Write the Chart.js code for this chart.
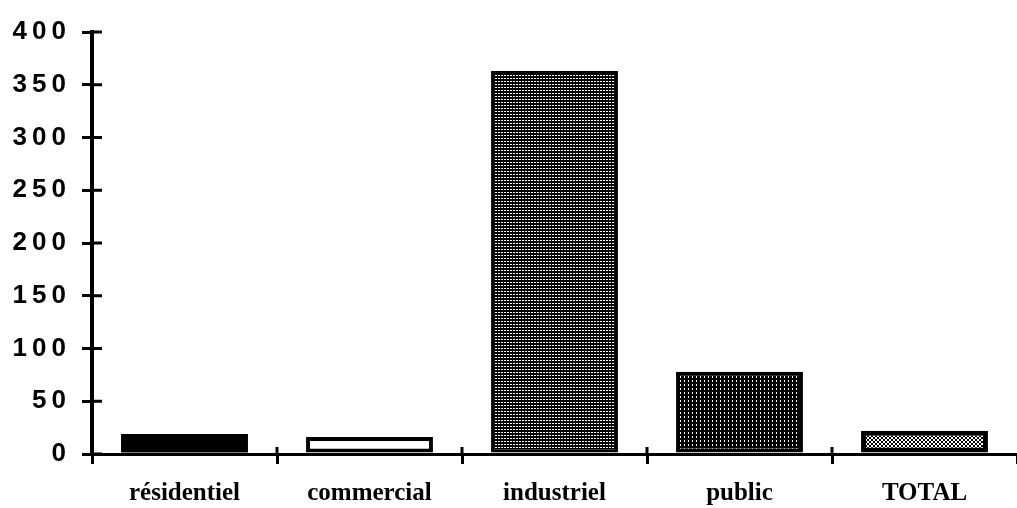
<!DOCTYPE html>
<html>
<head>
<meta charset="utf-8">
<script src="https://cdn.jsdelivr.net/npm/chart.js@4"></script>
<style>
    html, body { margin: 0; padding: 0; background: #fff; }
    #wrap { width: 1017px; height: 508px; position: relative; }
</style>
</head>
<body>
<div id="wrap"><canvas id="chart"></canvas></div>
<script>
const categories = ['résidentiel', 'commercial', 'industriel', 'public', 'TOTAL'];
const values = [19, 16, 363, 78, 22];
const yTicks = [0, 50, 100, 150, 200, 250, 300, 350, 400];

// small tiled fills, like the old screen patterns
function makePattern(size, bg, fg, dots) {
    const c = document.createElement('canvas');
    c.width = size;
    c.height = size;
    const g = c.getContext('2d');
    g.fillStyle = bg;
    g.fillRect(0, 0, size, size);
    g.fillStyle = fg;
    dots.forEach(d => g.fillRect(d[0], d[1], d[2], d[3]));
    return g.createPattern(c, 'repeat');
}

const dotsGray = makePattern(3, '#000', '#fff', [[0, 0, 2, 1]]);
const dotsDark = makePattern(4, '#000', '#fff', [[0, 0, 1, 2]]);
const hatch = makePattern(4, '#fff', '#000', [[0, 0, 1, 1], [1, 1, 1, 1], [2, 2, 1, 1], [3, 3, 1, 1], [3, 0, 1, 1], [2, 1, 1, 1], [1, 2, 1, 1], [0, 3, 1, 1]]);

const fills = ['#000', '#fff', dotsGray, dotsDark, hatch];
const borders = [0, 4, 3, 4, 5];

// tick marks cross the axes: draw the inner half
const crossTicks = {
    id: 'crossTicks',
    beforeDraw(chart) {
        chart.ctx.letterSpacing = '5px';
    },
    beforeDatasetsDraw(chart) {
        chart.ctx.letterSpacing = '0px';
    },
    afterDraw(chart) {
        const ctx = chart.ctx;
        const xs = chart.scales.x;
        const ys = chart.scales.y;
        const area = chart.chartArea;
        ctx.save();
        ctx.strokeStyle = '#000';
        ctx.lineWidth = 3;
        ctx.beginPath();
        yTicks.forEach(v => {
            const y = ys.getPixelForValue(v);
            ctx.moveTo(area.left, y);
            ctx.lineTo(area.left + 10, y);
        });
        for (let i = 1; i < categories.length; i++) {
            const x = xs.getPixelForValue(i - 0.5);
            ctx.moveTo(x, area.bottom);
            ctx.lineTo(x, area.bottom - 7);
        }
        ctx.stroke();
        ctx.restore();
    }
};

new Chart(document.getElementById('chart'), {
    type: 'bar',
    data: {
        labels: categories,
        datasets: [{
            data: values,
            backgroundColor: fills,
            borderColor: '#000',
            borderWidth: borders,
            borderSkipped: false,
            barPercentage: 0.686,
            categoryPercentage: 1
        }]
    },
    options: {
        responsive: true,
        maintainAspectRatio: false,
        animation: false,
        layout: { padding: { top: 32, right: 0, bottom: 0, left: 0 } },
        plugins: {
            legend: { display: false },
            tooltip: { enabled: false }
        },
        scales: {
            x: {
                offset: true,
                afterFit(scale) { scale.height = 54; },
                grid: {
                    offset: true,
                    drawOnChartArea: false,
                    drawTicks: true,
                    tickLength: 10,
                    lineWidth: 3,
                    color: '#000'
                },
                border: { display: true, color: '#000', width: 3, z: 1 },
                ticks: {
                    z: 1,
                    color: '#000',
                    padding: 15,
                    font: { family: '"Liberation Serif", serif', size: 25, weight: 'bold' }
                }
            },
            y: {
                min: 0,
                max: 400,
                afterFit(scale) { scale.width = 92; },
                afterBuildTicks(scale) {
                    scale.ticks = yTicks.map(v => ({ value: v }));
                },
                grid: {
                    drawOnChartArea: false,
                    drawTicks: true,
                    tickLength: 10,
                    lineWidth: 3,
                    color: '#000'
                },
                border: { display: true, color: '#000', width: 4, z: 1 },
                ticks: {
                    color: '#000',
                    padding: 11,
                    font: { family: '"Liberation Sans", Arial, sans-serif', size: 26, weight: 'bold' }
                }
            }
        }
    },
    plugins: [crossTicks]
});
</script>
</body>
</html>
